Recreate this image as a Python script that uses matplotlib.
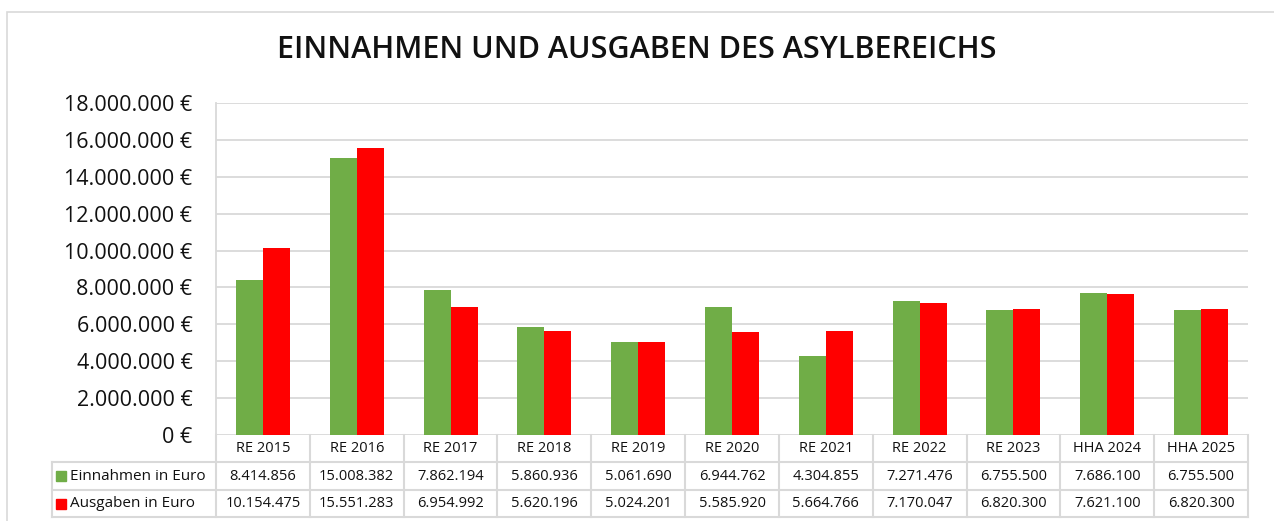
import matplotlib.pyplot as plt
import matplotlib.transforms as mtransforms
from matplotlib.patches import Rectangle
from matplotlib.lines import Line2D
import numpy as np

categories = ['RE 2015', 'RE 2016', 'RE 2017', 'RE 2018', 'RE 2019', 'RE 2020',
              'RE 2021', 'RE 2022', 'RE 2023', 'HHA 2024', 'HHA 2025']
einnahmen = [8414856, 15008382, 7862194, 5860936, 5061690, 6944762,
             4304855, 7271476, 6755500, 7686100, 6755500]
ausgaben = [10154475, 15551283, 6954992, 5620196, 5024201, 5585920,
            5664766, 7170047, 6820300, 7621100, 6820300]
series_names = ['Einnahmen in Euro', 'Ausgaben in Euro']
y_ticks = [0, 2000000, 4000000, 6000000, 8000000, 10000000,
           12000000, 14000000, 16000000, 18000000]

GREEN = '#70ad47'
RED = '#ff0000'
GRID = '#d9d9d9'

plt.rcParams['font.family'] = ['Open Sans', 'DejaVu Sans']

W, H = 1274, 521
fig = plt.figure(figsize=(W / 100, H / 100), dpi=100)

def px_x(x):
    return x / W

def px_y(y):
    return 1 - y / H

ax_left, ax_right, ax_top, ax_bot = 216, 1248, 103, 435
ax = fig.add_axes([px_x(ax_left), px_y(ax_bot), px_x(ax_right - ax_left), (ax_bot - ax_top) / H])

# outer frame of the chart
fig.add_artist(Rectangle((px_x(7), -0.2), 1.2, px_y(12) + 0.2, fill=False,
                         edgecolor=GRID, linewidth=1.2, transform=fig.transFigure))

x = np.arange(len(categories))
bw = 0.288
ax.bar(x - bw / 2, einnahmen, bw, color=GREEN, zorder=3)
ax.bar(x + bw / 2, ausgaben, bw, color=RED, zorder=3)

ax.set_xlim(-0.5, len(categories) - 0.5)
ax.set_ylim(0, 18000000)
ax.set_yticks(y_ticks)
ax.set_yticklabels([f"{v:,} €".replace(",", ".") for v in y_ticks], fontsize=15.5, color='#111111')
ax.tick_params(axis='y', length=0, pad=17)
ax.set_xticks([])
ax.grid(axis='y', color=GRID, linewidth=1.3, zorder=0)
for s in ['top', 'right', 'bottom']:
    ax.spines[s].set_visible(False)
ax.spines['left'].set_color(GRID)
ax.spines['left'].set_linewidth(1.3)

fig.text(0.5, px_y(50), 'EINNAHMEN UND AUSGABEN DES ASYLBEREICHS', ha='center', va='center',
         fontsize=22, fontweight='semibold', color='#111111')

# data table below the axes
blend = mtransforms.blended_transform_factory(ax.transData, ax.transAxes)
hpx = ax_bot - ax_top

def ay(py):
    return (ax_bot - py) / hpx

upx = (ax_right - ax_left) / len(categories)
label_left = -0.5 - (ax_left - 52) / upx
right_edge = len(categories) - 0.5
rows_y = [435, 462, 490, 517]

def line(xs, ys):
    ax.add_line(Line2D(xs, ys, transform=blend, color=GRID, linewidth=1.5, clip_on=False, zorder=4))

for i in range(len(categories) + 1):
    line([i - 0.5, i - 0.5], [ay(rows_y[0]), ay(rows_y[-1])])
line([label_left, label_left], [ay(rows_y[1]), ay(rows_y[-1])])
for ry in rows_y[1:]:
    line([label_left, right_edge], [ay(ry), ay(ry)])

for i, c in enumerate(categories):
    ax.text(i, ay(449), c, transform=blend, ha='center', va='center', fontsize=10.5, color='#111111')

for r, (name, vals, col) in enumerate(zip(series_names, [einnahmen, ausgaben], [GREEN, RED])):
    yc = ay((rows_y[r + 1] + rows_y[r + 2]) / 2)
    ax.plot([label_left + 0.1], [yc], marker='s', markersize=7, color=col, transform=blend, clip_on=False)
    ax.text(label_left + 0.19, yc, name, transform=blend, ha='left', va='center', fontsize=11, color='#111111')
    for i, v in enumerate(vals):
        ax.text(i, yc, f"{v:,}".replace(",", "."), transform=blend, ha='center', va='center',
                fontsize=10.5, color='#111111')

fig.savefig('out.png', dpi=100)
